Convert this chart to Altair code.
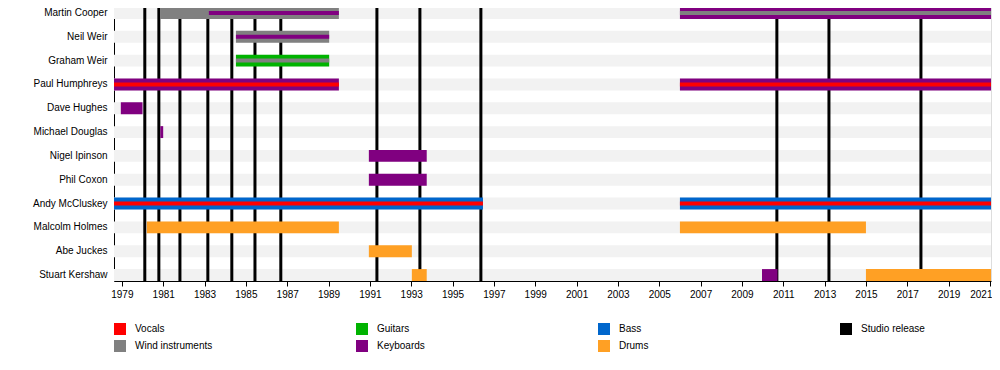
import altair as alt
import pandas as pd

# Axis range (years)
X_MIN, X_MAX = 1978.62, 2021.05

members = ["Martin Cooper", "Neil Weir", "Graham Weir", "Paul Humphreys", "Dave Hughes",
           "Michael Douglas", "Nigel Ipinson", "Phil Coxon", "Andy McCluskey",
           "Malcolm Holmes", "Abe Juckes", "Stuart Kershaw"]

# Main bars
bar_member = ["Martin Cooper", "Martin Cooper", "Neil Weir", "Graham Weir",
              "Paul Humphreys", "Paul Humphreys", "Dave Hughes", "Michael Douglas",
              "Nigel Ipinson", "Phil Coxon", "Andy McCluskey", "Andy McCluskey",
              "Malcolm Holmes", "Malcolm Holmes", "Abe Juckes", "Stuart Kershaw",
              "Stuart Kershaw", "Stuart Kershaw"]
bar_start = [1980.85, 2006.0, 1984.52, 1984.52, 1978.62, 2006.0, 1978.95, 1980.86,
             1990.95, 1990.95, 1978.62, 2006.0, 1980.21, 2006.0, 1990.95, 1993.03,
             2009.97, 2015.0]
bar_end = [1989.5, 2021.05, 1989.03, 1989.03, 1989.5, 2021.05, 1980.0, 1981.0,
           1993.75, 1993.75, 1996.47, 2021.05, 1989.5, 2015.0, 1993.03, 1993.75,
           2010.72, 2021.05]
bar_role = ["Wind instruments", "Keyboards", "Wind instruments", "Guitars",
            "Keyboards", "Keyboards", "Keyboards", "Keyboards",
            "Keyboards", "Keyboards", "Bass", "Bass",
            "Drums", "Drums", "Drums", "Drums", "Keyboards", "Drums"]

# Secondary-role stripes
stripe_member = ["Martin Cooper", "Martin Cooper", "Neil Weir", "Graham Weir",
                 "Paul Humphreys", "Paul Humphreys", "Andy McCluskey", "Andy McCluskey"]
stripe_start = [1983.21, 2006.0, 1984.52, 1984.52, 1978.62, 2006.0, 1978.62, 2006.0]
stripe_end = [1989.5, 2021.05, 1989.03, 1989.03, 1989.5, 2021.05, 1996.47, 2021.05]
stripe_role = ["Keyboards", "Wind instruments", "Keyboards", "Wind instruments",
               "Vocals", "Vocals", "Vocals", "Vocals"]

# Studio releases
release_years = [1980.11, 1980.79, 1981.81, 1983.16, 1984.32, 1985.44, 1986.69,
                 1991.34, 1993.42, 1996.37, 2010.69, 2013.21, 2017.66]

legend_names = ["Vocals", "Wind instruments", "Guitars", "Keyboards",
                "Bass", "Drums", "Studio release"]
legend_colors = ["#ff0000", "#808080", "#00b300", "#800080",
                 "#0066cc", "#ffa024", "#000000"]

tick_years = list(range(1979, 2022))

band_df = pd.DataFrame({"member": members, "start": [X_MIN] * len(members),
                        "end": [X_MAX] * len(members)})
bar_df = pd.DataFrame({"member": bar_member, "start": bar_start, "end": bar_end, "role": bar_role})
stripe_df = pd.DataFrame({"member": stripe_member, "start": stripe_start,
                          "end": stripe_end, "role": stripe_role})
rel_df = pd.DataFrame({"year": release_years})

FONT = "Liberation Sans"

x_scale = alt.Scale(domain=[X_MIN, X_MAX], nice=False, zero=False)
x_axis = alt.Axis(title=None, values=tick_years, format="d",
                  labelExpr="datum.value % 2 === 1 ? datum.label : ''",
                  tickSize={"condition": {"test": "datum.value % 2 === 1", "value": 5}, "value": 3},
                  tickColor="black", domainColor="black", labelFontSize=10,
                  labelColor="black", labelPadding=3, grid=False, labelFlush=2,
                  labelFlushOffset=2, labelOverlap=False, labelFont=FONT)
y_scale = alt.Scale(domain=members, paddingInner=0.5, paddingOuter=0)
y_axis = alt.Axis(title=None, ticks=False, domainColor="black", labelFontSize=10,
                  labelColor="black", labelPadding=7, labelFont=FONT)

color_scale = alt.Scale(domain=legend_names, range=legend_colors)
legend = alt.Legend(title=None, orient="none", legendX=0, legendY=316, columns=4,
                    symbolType="square", symbolSize=144, symbolStrokeWidth=0,
                    labelFontSize=10, labelFont=FONT, labelColor="black",
                    gridAlign="all", columnPadding=143, rowPadding=5, labelOffset=9,
                    padding=0)

bands = alt.Chart(band_df).mark_bar(color="#f2f2f2").encode(
    x=alt.X("start:Q", scale=x_scale, axis=x_axis),
    x2="end:Q",
    y=alt.Y("member:N", sort=members, scale=y_scale, axis=y_axis),
)

rules = alt.Chart(rel_df).mark_rule(color="black", strokeWidth=3).encode(
    x=alt.X("year:Q", scale=x_scale)
)

bars = alt.Chart(bar_df).mark_bar().encode(
    x=alt.X("start:Q", scale=x_scale),
    x2="end:Q",
    y=alt.Y("member:N", sort=members, scale=y_scale),
    color=alt.Color("role:N", scale=color_scale, legend=legend),
)

stripes = alt.Chart(stripe_df).mark_bar(height=4).encode(
    x=alt.X("start:Q", scale=x_scale),
    x2="end:Q",
    y=alt.Y("member:N", sort=members, scale=y_scale),
    color=alt.Color("role:N", scale=color_scale, legend=legend),
)

chart = alt.layer(bands, rules, bars, stripes).properties(
    width=877, height=274,
    autosize=alt.AutoSizeParams(type="none"),
    padding={"left": 106, "top": -1, "right": 1, "bottom": 80},
).configure_view(stroke=None).configure(font=FONT)

chart.save("out.html", embed_options={"renderer": "svg", "actions": False})
